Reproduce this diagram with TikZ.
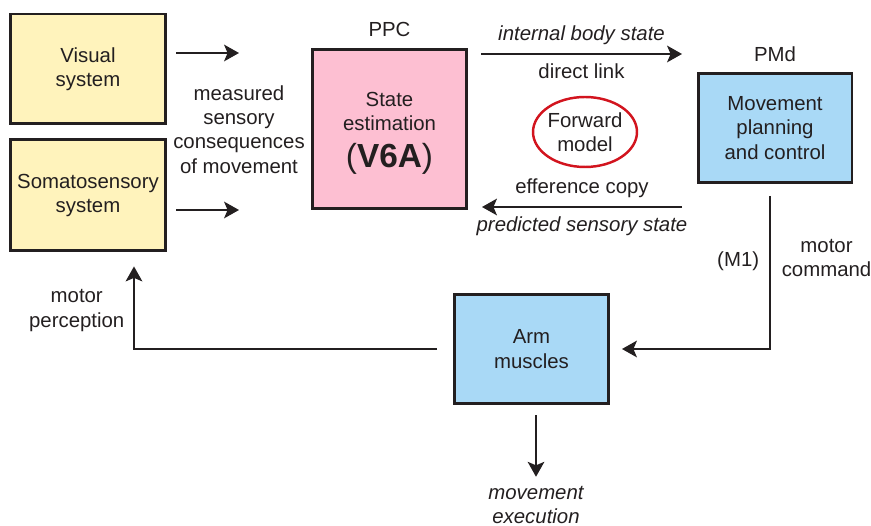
\documentclass[tikz,border=0pt]{standalone}
\usepackage{fontspec}
\setmainfont{Liberation Sans}
\usetikzlibrary{arrows.meta,positioning,shapes.geometric}

\definecolor{inkc}{HTML}{231F20}
\definecolor{senseyel}{HTML}{FFF3BC}
\definecolor{ppcpink}{HTML}{FDBFD2}
\definecolor{motorblue}{HTML}{A9D9F6}
\definecolor{fwdred}{HTML}{D2141E}

\newcommand{\basefont}{\fontsize{11.6}{13.9}\selectfont}

\begin{document}
\begin{tikzpicture}[x=0.02cm,y=-0.02cm,color=inkc,font=\basefont,
    >={Stealth[length=8.5pt,width=9.5pt,inset=2pt]}]
    \tikzstyle{block}=[draw=inkc,line width=1.7pt,align=center,inner sep=2pt]
    \tikzstyle{flow}=[->,line width=1pt,draw=inkc]
    \tikzstyle{lbl}=[inner sep=0pt,align=center]
    \tikzstyle{itlbl}=[lbl,font=\basefont\itshape]

    \useasboundingbox (0,0) rectangle (871,526);

    \node[block,fill=senseyel,minimum width=3.1cm,minimum height=2.2cm] (vis) at (88,69) {Visual\\system};
    \node[block,fill=senseyel,minimum width=3.1cm,minimum height=2.22cm] (soma) [below=0.26cm of vis] {Somatosensory\\system};
    \node[block,fill=ppcpink,minimum width=3.08cm,minimum height=3.2cm] (ppc) at (389.5,129)
        {\rule{0pt}{12.8pt}State\\estimation\\[7pt]{\fontsize{19}{22}\selectfont(\textbf{V6A})}};
    \node[block,fill=motorblue,minimum width=3.08cm,minimum height=2.18cm] (pmd) at (775,128) {Movement\\planning\\and control};
    \node[block,fill=motorblue,minimum width=3.08cm,minimum height=2.2cm] (arm) at (531.5,349) {Arm\\muscles};
    \node[ellipse,draw=fwdred,line width=1.4pt,align=center,inner sep=0pt,inner xsep=-2pt,
        minimum width=2.08cm,minimum height=1.4cm] (fwd) at (585,132) {Forward\\model};

    \node[lbl] (ppclbl) [above=0.2cm of ppc] {PPC};
    \node[lbl] (pmdlbl) [above=0.2cm of pmd] {PMd};
    \node[lbl] (meas) at (239,129.5) {measured\\sensory\\consequences\\of movement};
    \node[itlbl] (exec) at (536,505) {movement\\execution};

    \coordinate (vs0) at (176,53);
    \coordinate (vs1) at (239,53);
    \coordinate (ss0) at (176,210);
    \coordinate (ss1) at (239,210);
    \coordinate (ibs0) at (481,54);
    \coordinate (ibs1) at (682,54);
    \coordinate (psc0) at (682,207);
    \coordinate (psc1) at (482,207);

    \draw[flow] (vs0) -- (vs1);
    \draw[flow] (ss0) -- (ss1);
    \draw[flow] (ibs0) -- node[itlbl,above=5pt] {internal body state}
        node[lbl,below=5.3pt] {direct link} (ibs1);
    \draw[flow] (psc0) -- node[lbl,above=4.5pt] {efference copy}
        node[itlbl,below=4.8pt] {predicted sensory state} (psc1);

    \draw[flow,shorten <=0.24cm,shorten >=0.24cm] ([xshift=-0.1cm]pmd.south)
        -- node[lbl,pos=0.47,left=5.7pt] {(M1)} node[lbl,pos=0.45,right=6.2pt] {motor\\command}
        ([xshift=-0.1cm]pmd.south |- arm.east) -- (arm.east);
    \draw[flow,shorten <=0.32cm,shorten >=0.28cm] (arm.west)
        -| node[lbl,pos=0.7,left=5pt] {motor\\perception} ([xshift=0.92cm]soma.south);
    \draw[flow,shorten <=0.2cm,shorten >=0.18cm] (arm.south -| exec.north) -- (exec.north);
\end{tikzpicture}
\end{document}
